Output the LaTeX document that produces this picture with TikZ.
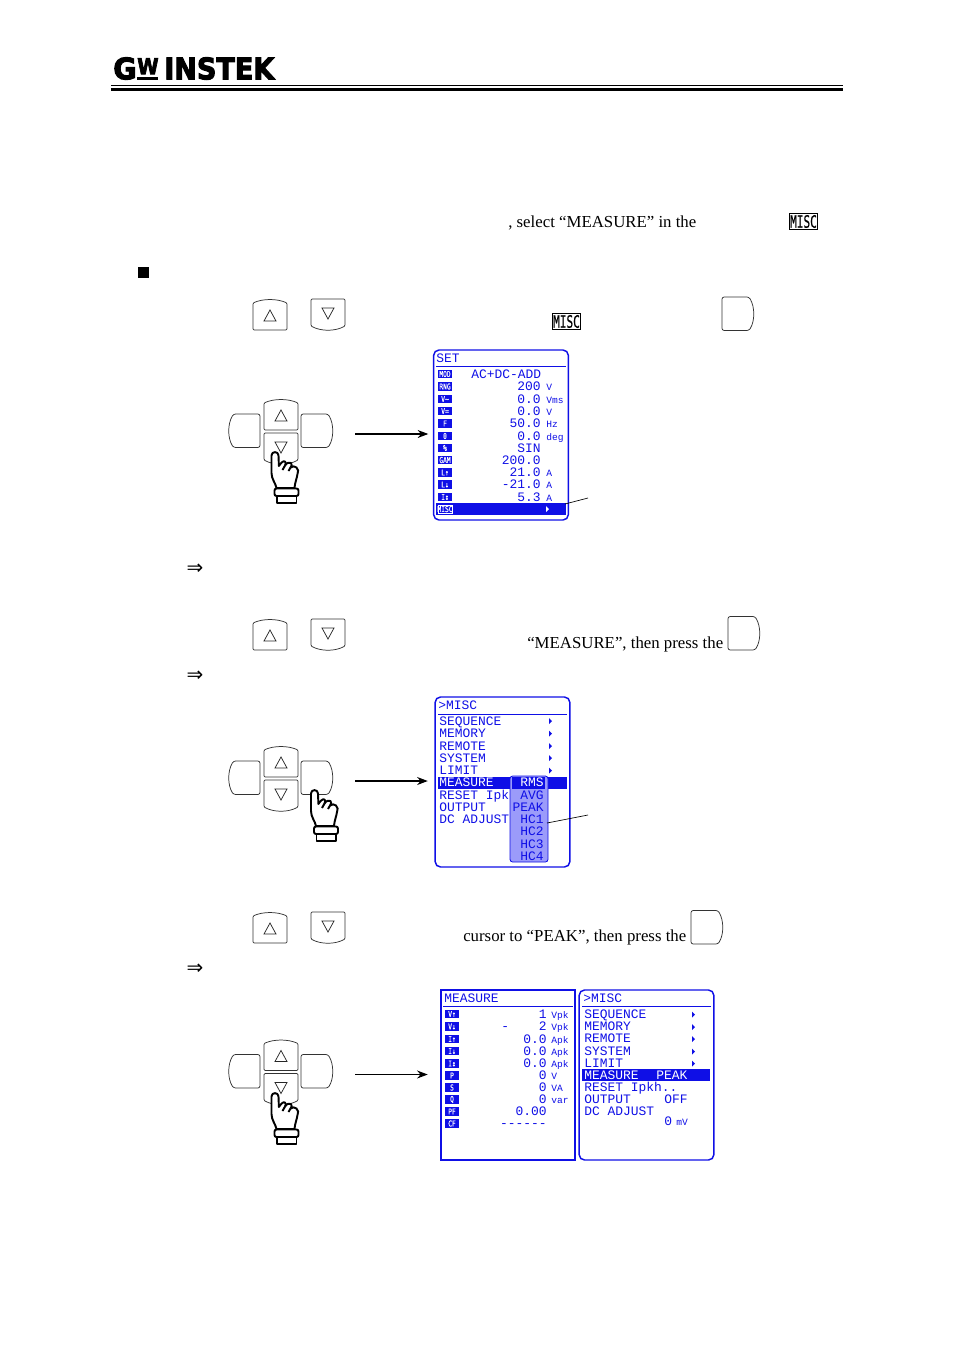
\documentclass[tikz,border=0pt]{standalone}
\usepackage{fontspec}
\usepackage{graphicx}
\usetikzlibrary{arrows.meta}
\setmainfont{Liberation Serif}
\newfontfamily\lcdfont{Liberation Mono}
\newfontfamily\iconfont{DejaVu Sans Mono}[FakeBold=0.3]
\newfontfamily\logofont{DejaVu Sans Bold}[FakeBold=3.5]
\newfontfamily\miscfont{DejaVu Sans Mono}[FakeBold=0.8]
\definecolor{lcd}{RGB}{15,15,230}
\definecolor{lcdpop}{RGB}{155,155,250}
\newcounter{tn}
\tikzset{
 lcdtext/.style={inner sep=0pt,text=lcd,font=\lcdfont\fontsize{9.7}{10}\selectfont},
 lcdunit/.style={inner sep=0pt,text=lcd,font=\lcdfont\fontsize{7.2}{8}\selectfont},
 iconbox/.style={fill=lcd,text=white,inner sep=0pt,minimum width=10.5pt,minimum height=6.3pt,font=\iconfont\fontsize{4.7}{5}\selectfont},
 miscicon/.style={draw=black,fill=white,line width=0.9pt,inner sep=0pt,minimum width=21.5pt,minimum height=12.5pt,text=black},
 screenR/.style={draw=lcd,line width=1.1pt,rounded corners=4pt,minimum width=101pt,minimum height=127.5pt,inner sep=0pt},
 screenS/.style={draw=lcd,line width=1.4pt,minimum width=100pt,minimum height=127.5pt,inner sep=0pt},
 bodytext/.style={inner sep=0pt,anchor=base west,font=\fontsize{12.6}{14}\selectfont},
 keyline/.style={draw=black!80,line width=0.55pt,fill=white},
 handline/.style={draw=black,fill=white,line width=1.45pt,line join=round},
 connector/.style={black,line width=0.8pt,-{Stealth[length=8pt,width=6pt]}},
 leader/.style={black,line width=0.5pt},
 pics/upkey/.style={code={
  \draw[keyline,rounded corners=0.8pt] (0,4) .. controls (10,-0.5) and (24,-0.5) .. (34,4) -- (34,31) -- (0,31) -- cycle;
  \draw[black!85,line width=0.55pt] (17,11) -- (11,22) -- (23,22) -- cycle;}},
 pics/downkey/.style={code={
  \draw[keyline,rounded corners=0.8pt] (0,0) -- (34,0) -- (34,27) .. controls (24,32.5) and (10,32.5) .. (0,27) -- cycle;
  \draw[black!85,line width=0.55pt] (11,9) -- (23,9) -- (17,20) -- cycle;}},
 pics/rightkey/.style={code={
  \draw[keyline,rounded corners=1.6pt] (0,0) -- (27,0) .. controls (33,10) and (33,24) .. (27,33.5) -- (0,33.5) -- cycle;}},
 pics/leftkey/.style={code={
  \draw[keyline,rounded corners=1.6pt] (31,0) -- (4.5,0) .. controls (-1.5,10) and (-1.5,24) .. (4.5,33.5) -- (31,33.5) -- cycle;}},
}
\newcommand{\keypad}[2]{%
 \pic at (229,#1+15) {leftkey};
 \pic at (301,#1+15) {rightkey};
 \pic at (264,#1) {upkey};
 \pic at (264,#1+34) {downkey};
}
\newcommand{\handat}[2]{%
 \begin{scope}[shift={(#1,#2)}]
  \draw[handline]
   (-3,3.5) .. controls (-3,-1) and (4,-1) .. (4,3.5) -- (4.4,14)
   .. controls (6.5,11) and (8.5,8.5) .. (10.5,9.5) .. controls (12,10.5) and (11,12) .. (10.5,13.5)
   .. controls (12.5,10.5) and (15,10) .. (16.5,11) .. controls (18,12.5) and (17,14) .. (16,15.5)
   .. controls (18,14) and (20.5,14) .. (22,15.5) .. controls (24,17) and (24,20) .. (23,22)
   .. controls (22.5,26) and (20.5,30) .. (20,36) -- (2,36)
   .. controls (1,31) and (-3,27) .. (-3,21) -- cycle;
  \draw[handline] (10.5,13.5) -- (8,18);
  \draw[handline] (16,15.5) -- (14,19);
  \draw[handline,rounded corners=1.5pt] (0,36.5) rectangle (24,44);
  \draw[handline] (2.5,44) rectangle (22,51);
 \end{scope}
}
\newcommand{\lcdL}[3]{\stepcounter{tn}\node[lcdtext,anchor=base west,name=t\arabic{tn}] at (#1,#2+4) {#3};}
\newcommand{\lcdR}[3]{\stepcounter{tn}\node[lcdtext,anchor=base east,name=t\arabic{tn}] at (#1,#2+4) {#3};}
\newcommand{\lcdU}[3]{\stepcounter{tn}\node[lcdunit,anchor=base west,name=t\arabic{tn}] at (#1,#2+4) {#3};}
\newcommand{\lcdW}[3]{\stepcounter{tn}\node[lcdtext,text=white,anchor=base west,name=t\arabic{tn}] at (#1,#2+4) {#3};}
\newcommand{\icon}[3]{\stepcounter{tn}\node[iconbox,name=t\arabic{tn}] at (#1,#2) {\scalebox{1}[1.3]{#3}};}
\newcommand{\mk}[2]{\fill[lcd] (#1,#2-3) -- (#1+3,#2) -- (#1,#2+3) -- cycle;}
\newcommand{\misc}[3]{\node[miscicon,name=#3] at (#1,#2) {\resizebox{20pt}{9.5pt}{\miscfont MISC}};}
\newcommand{\impliesat}[2]{\stepcounter{tn}\node[inner sep=0pt,name=t\arabic{tn},font=\fontsize{15}{16}\selectfont\fontspec{DejaVu Sans}] at (#1,#2) {⇒};}
\begin{document}
\begin{tikzpicture}[x=0.75pt,y=-0.75pt]
\useasboundingbox (0,0) rectangle (954,1350);
% header
\node[inner sep=0pt,anchor=south west,name=logoG] at (113,80) {\resizebox{17.5pt}{16.5pt}{\logofont G}};
\node[inner sep=0pt,anchor=south west,name=logoW] at (137,74.5) {\resizebox{16pt}{12pt}{\logofont W}};
\fill[black] (137,76.5) rectangle (158,80);
\node[inner sep=0pt,anchor=south west,name=logoI] at (164,80) {\resizebox{82.5pt}{16.5pt}{\logofont INSTEK}};
\fill[black] (111,85.2) rectangle (843,86.4);
\fill[black] (111,87.8) rectangle (843,91);
% body fragments
\node[bodytext,name=b1] at (508,227) {, select “MEASURE” in the};
\misc{803.5}{221.5}{misc1}
\fill[black] (138,267) rectangle (149,278);
\pic at (253,299) {upkey};
\pic at (311,299) {downkey};
\misc{566.5}{321.5}{misc2}
\pic at (722,297) {rightkey};
\impliesat{195}{569}
\pic at (253,619) {upkey};
\pic at (311,619) {downkey};
\node[bodytext,name=b2] at (527,648) {“MEASURE”, then press the};
\pic at (728,616.5) {rightkey};
\impliesat{195}{676}
\pic at (253,912) {upkey};
\pic at (311,912) {downkey};
\node[bodytext,name=b3] at (463,941) {cursor to “PEAK”, then press the};
\pic at (691,910.5) {rightkey};
\impliesat{195}{969}
% keypads and hands
\keypad{399}{}
\handat{274.5}{452}
\keypad{746}{}
\handat{314}{790}
\keypad{1039.5}{}
\handat{274.5}{1093}
% screen 1
\node[screenR] (scr1) at (501,435) {};
\lcdL{436}{358}{SET}
\draw[lcd,line width=0.7pt] (436,366) -- (566,366);
\fill[lcd] (436,503) rectangle (566,515);
\icon{445}{374}{MOD}\lcdL{471}{374}{AC+DC-ADD}
\icon{445}{386.5}{RNG}\lcdR{541}{386.5}{200}\lcdU{546}{386.5}{V}
\icon{445}{399}{V\~{}}\lcdR{541}{399}{0.0}\lcdU{546}{399}{Vms}
\icon{445}{411}{V=}\lcdR{541}{411}{0.0}\lcdU{546}{411}{V}
\icon{445}{423.5}{F}\lcdR{541}{423.5}{50.0}\lcdU{546}{423.5}{Hz}
\icon{445}{436}{θ}\lcdR{541}{436}{0.0}\lcdU{546}{436}{deg}
\icon{445}{448}{\%}\lcdR{541}{448}{SIN}
\icon{445}{460}{GAM}\lcdR{541}{460}{200.0}
\icon{445}{472.5}{L↑}\lcdR{541}{472.5}{21.0}\lcdU{546}{472.5}{A}
\icon{445}{484.5}{L↓}\lcdR{541}{484.5}{-21.0}\lcdU{546}{484.5}{A}
\icon{445}{497}{I↕}\lcdR{541}{497}{5.3}\lcdU{546}{497}{A}
\icon{445}{509}{MISC}
\draw[white,line width=0.4pt] (438,505) rectangle (452,513);
\fill[white] (546,506) -- (549,509) -- (546,512) -- cycle;
\coordinate (l1a) at (565,504);
\coordinate (l1b) at (588,498);
\draw[leader] (l1a) -- (l1b);
\coordinate (a1s) at (355,434);
\draw[connector] (a1s) -- ([xshift=-3.5pt]scr1.west |- a1s);
% screen 2
\node[screenR] (scr2) at (502.5,782) {};
\lcdL{438}{705}{>MISC}
\draw[lcd,line width=0.7pt] (438,714) -- (567,714);
\fill[lcd] (438,777) rectangle (567,789);
\lcdL{439}{721}{SEQUENCE}\mk{549}{721}
\lcdL{439}{733}{MEMORY}\mk{549}{733.5}
\lcdL{439}{746}{REMOTE}\mk{549}{746}
\lcdL{439}{758}{SYSTEM}\mk{549}{758}
\lcdL{439}{770}{LIMIT}\mk{549}{770.5}
\lcdW{439}{782.5}{MEASURE}
\lcdL{439}{795}{RESET Ipk}
\lcdL{439}{807}{OUTPUT}
\lcdL{439}{819}{DC ADJUST}
\fill[lcdpop,draw=lcd,line width=0.6pt,rounded corners=2pt] (510,776) rectangle (548,862);
\fill[lcd] (512,777) rectangle (544.5,789);
\lcdR{544}{782.5}{\textcolor{white}{RMS}}
\lcdR{544}{795}{AVG}
\lcdR{544}{807}{PEAK}
\lcdR{544}{819}{HC1}
\lcdR{544}{831.5}{HC2}
\lcdR{544}{844}{HC3}
\lcdR{544}{856}{HC4}
\coordinate (l2a) at (547,823);
\coordinate (l2b) at (588,815);
\draw[leader] (l2a) -- (l2b);
\coordinate (a2s) at (355,781);
\draw[connector] (a2s) -- ([xshift=-5pt]scr2.west |- a2s);
% screen 3 left
\node[screenS] (scr3) at (508,1075) {};
\lcdL{444}{998}{MEASURE}
\draw[lcd,line width=0.7pt] (443,1006) -- (573,1006);
\icon{452}{1014}{V↑}\lcdR{547}{1014}{1}\lcdU{551}{1014}{Vpk}
\icon{452}{1026.5}{V↓}\lcdL{501}{1026.5}{-}\lcdR{547}{1026.5}{2}\lcdU{551}{1026.5}{Vpk}
\icon{452}{1039}{I↑}\lcdR{547}{1039}{0.0}\lcdU{551}{1039}{Apk}
\icon{452}{1051}{I↓}\lcdR{547}{1051}{0.0}\lcdU{551}{1051}{Apk}
\icon{452}{1063.5}{I↕}\lcdR{547}{1063.5}{0.0}\lcdU{551}{1063.5}{Apk}
\icon{452}{1075.5}{P}\lcdR{547}{1075.5}{0}\lcdU{551}{1075.5}{V}
\icon{452}{1087.5}{S}\lcdR{547}{1087.5}{0}\lcdU{551}{1087.5}{VA}
\icon{452}{1099.5}{Q}\lcdR{547}{1099.5}{0}\lcdU{551}{1099.5}{var}
\icon{452}{1111.5}{PF}\lcdR{547}{1111.5}{0.00}
\icon{452}{1123.5}{CF}\lcdR{547}{1123.5}{------}
% screen 3 right
\node[screenR] (scr4) at (646.5,1075) {};
\lcdL{583}{998}{>MISC}
\draw[lcd,line width=0.7pt] (582,1006) -- (711,1006);
\fill[lcd] (582,1069) rectangle (710,1081);
\lcdL{584}{1014}{SEQUENCE}\mk{692}{1014.5}
\lcdL{584}{1026}{MEMORY}\mk{692}{1027}
\lcdL{584}{1038.5}{REMOTE}\mk{692}{1039}
\lcdL{584}{1051}{SYSTEM}\mk{692}{1051.5}
\lcdL{584}{1063}{LIMIT}\mk{692}{1063.5}
\lcdW{584}{1075}{MEASURE}\lcdW{656}{1075}{PEAK}
\lcdL{584}{1087}{RESET Ipkh..}
\lcdL{584}{1099}{OUTPUT}\lcdL{664}{1099}{OFF}
\lcdL{584}{1111}{DC ADJUST}
\lcdL{664}{1121.5}{0}\lcdU{676}{1121.5}{mV}
\coordinate (a3s) at (355,1074.5);
\draw[connector] (a3s) -- ([xshift=-9.5pt]scr3.west |- a3s);
\end{tikzpicture}
\end{document}
